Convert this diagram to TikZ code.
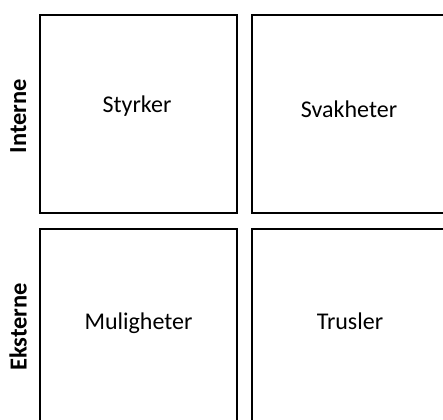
\documentclass[tikz,border=0pt]{standalone}
\usepackage{fontspec}
\setmainfont{Carlito}
\begin{document}
\begin{tikzpicture}[x=1pt,y=-1pt,
  quad/.style={draw=black,line width=1.8pt},
  celltext/.style={anchor=base,inner sep=0pt,font=\fontsize{24}{28}\selectfont},
  sidetext/.style={anchor=base,inner sep=0pt,rotate=90,font=\fontsize{24.5}{28}\selectfont\bfseries}]
\useasboundingbox (0,0) rectangle (443,419);
\clip (0,0) rectangle (443,419);
\draw[quad] (40,15) rectangle (237,213);
\draw[quad] (252,15) rectangle (470,213);
\draw[quad] (40,229) rectangle (237,450);
\draw[quad] (252,229) rectangle (470,450);
\node[celltext] (s) at (137,113) {Styrker};
\node[celltext] (w) at (349,118) {Svakheter};
\node[celltext] (o) at (138.5,329) {Muligheter};
\node[celltext] (t) at (350,329) {Trusler};
\node[sidetext] (int) at (26,116) {Interne};
\node[sidetext] (ext) at (26.5,327) {Eksterne};
\end{tikzpicture}
\end{document}
